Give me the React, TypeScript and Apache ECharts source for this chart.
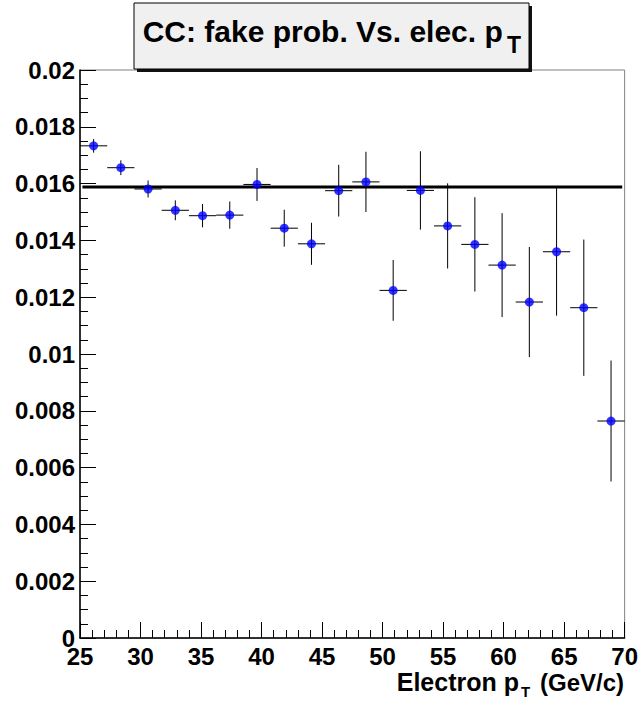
import React, { useEffect, useRef } from "react";
import * as echarts from "echarts";

// ---- data ----
const binCenters = [
  26.125, 28.375, 30.625, 32.875, 35.125, 37.375, 39.625, 41.875, 44.125, 46.375,
  48.625, 50.875, 53.125, 55.375, 57.625, 59.875, 62.125, 64.375, 66.625, 68.875,
];
const fakeProb = [
  0.01733, 0.01656, 0.01581, 0.01506, 0.01487, 0.01489, 0.01597, 0.01443, 0.01388, 0.01575,
  0.01606, 0.01224, 0.01576, 0.01451, 0.01386, 0.01313, 0.01183, 0.0136, 0.01163, 0.00764,
];
const fakeErr = [
  0.00024, 0.00026, 0.0003, 0.00035, 0.00041, 0.00048, 0.00058, 0.00065, 0.00074, 0.00091,
  0.00106, 0.00107, 0.00138, 0.0015, 0.00166, 0.00183, 0.00194, 0.00225, 0.0024, 0.00213,
];
const binHalfWidth = 1.125;
const fitX = [25.2, 69.8];
const fitValue = 0.01588;

const FONT = '"Liberation Sans", Arial, Helvetica, sans-serif';

export default function App() {
  const ref = useRef<HTMLDivElement>(null);
  useEffect(() => {
    if (!ref.current) return;
    const chart = echarts.init(ref.current, undefined, { renderer: "svg" });
    const points = binCenters.map((x, i) => [x, fakeProb[i]]);
    const bars = binCenters.map((x, i) => [x, fakeProb[i], fakeErr[i]]);
    const fit = fitX.map((x) => [x, fitValue]);
    const labelStyle = {
      color: "#000",
      fontSize: 24,
      fontWeight: "bold" as const,
      fontFamily: FONT,
    };
    const txt = (text: string, x: number, y: number, size: number, align: string) => ({
      type: "text",
      x,
      y,
      z: 12,
      style: {
        text,
        font: `bold ${size}px ${FONT}`,
        fill: "#000",
        align,
        verticalAlign: "middle",
        textAlign: align,
        textVerticalAlign: "middle",
      },
    });
    chart.setOption({
      animation: false,
      grid: {
        left: 80,
        right: 16,
        top: 70,
        bottom: 64,
        show: true,
        borderColor: "#808080",
        borderWidth: 1,
        backgroundColor: "transparent",
      },
      xAxis: {
        type: "value",
        min: 25,
        max: 70,
        interval: 5,
        axisLine: { show: true, onZero: false, lineStyle: { color: "#000", width: 1.5 } },
        axisTick: { show: true, inside: true, length: 16, lineStyle: { color: "#000" } },
        minorTick: { show: true, splitNumber: 5, length: 8, lineStyle: { color: "#000" } },
        splitLine: { show: false },
        minorSplitLine: { show: false },
        axisLabel: { ...labelStyle, margin: 6 },
      },
      yAxis: {
        type: "value",
        min: 0,
        max: 0.02,
        interval: 0.002,
        axisLine: { show: true, onZero: false, lineStyle: { color: "#000", width: 1.5 } },
        axisTick: { show: true, inside: true, length: 16, lineStyle: { color: "#000" } },
        minorTick: { show: true, splitNumber: 4, length: 8, lineStyle: { color: "#000" } },
        splitLine: { show: false },
        minorSplitLine: { show: false },
        axisLabel: {
          ...labelStyle,
          margin: 5,
          formatter: (v: number) => String(parseFloat(v.toFixed(4))),
        },
      },
      series: [
        {
          type: "line",
          data: fit,
          showSymbol: false,
          symbol: "none",
          lineStyle: { color: "#000", width: 3 },
          z: 2,
          silent: true,
        },
        {
          type: "custom",
          data: bars,
          z: 3,
          silent: true,
          renderItem: (params: any, api: any) => {
            const x = api.value(0);
            const y = api.value(1);
            const e = api.value(2);
            const top = api.coord([x, y + e]);
            const bot = api.coord([x, y - e]);
            const l = api.coord([x - binHalfWidth, y]);
            const r = api.coord([x + binHalfWidth, y]);
            return {
              type: "group",
              children: [
                {
                  type: "line",
                  shape: { x1: top[0], y1: top[1], x2: bot[0], y2: bot[1] },
                  style: { stroke: "#000", lineWidth: 1 },
                },
                {
                  type: "line",
                  shape: { x1: l[0], y1: l[1], x2: r[0], y2: r[1] },
                  style: { stroke: "#000", lineWidth: 1 },
                },
              ],
            };
          },
        },
        {
          type: "scatter",
          data: points,
          symbol: "circle",
          symbolSize: 9,
          itemStyle: { color: "#0000ff" },
          z: 4,
        },
      ],
      graphic: [
        {
          type: "rect",
          shape: { x: 137, y: 6, width: 395, height: 66 },
          style: { fill: "#111" },
          z: 10,
        },
        {
          type: "rect",
          shape: { x: 134, y: 3, width: 395, height: 66 },
          style: { fill: "#f0f0f0", stroke: "#000", lineWidth: 1 },
          z: 11,
        },
        txt("CC: fake prob. Vs. elec. p", 142.7, 31.5, 30, "left"),
        txt("T", 507, 45, 23, "left"),
        txt("Electron p", 519, 682, 25, "right"),
        txt("T", 521, 691, 15, "left"),
        txt("(GeV/c)", 624, 682, 24, "right"),
      ],
    });
    return () => chart.dispose();
  }, []);
  return (
    <div
      ref={ref}
      style={{ position: "fixed", left: 0, top: 0, width: 641, height: 702, background: "#fff" }}
    />
  );
}
